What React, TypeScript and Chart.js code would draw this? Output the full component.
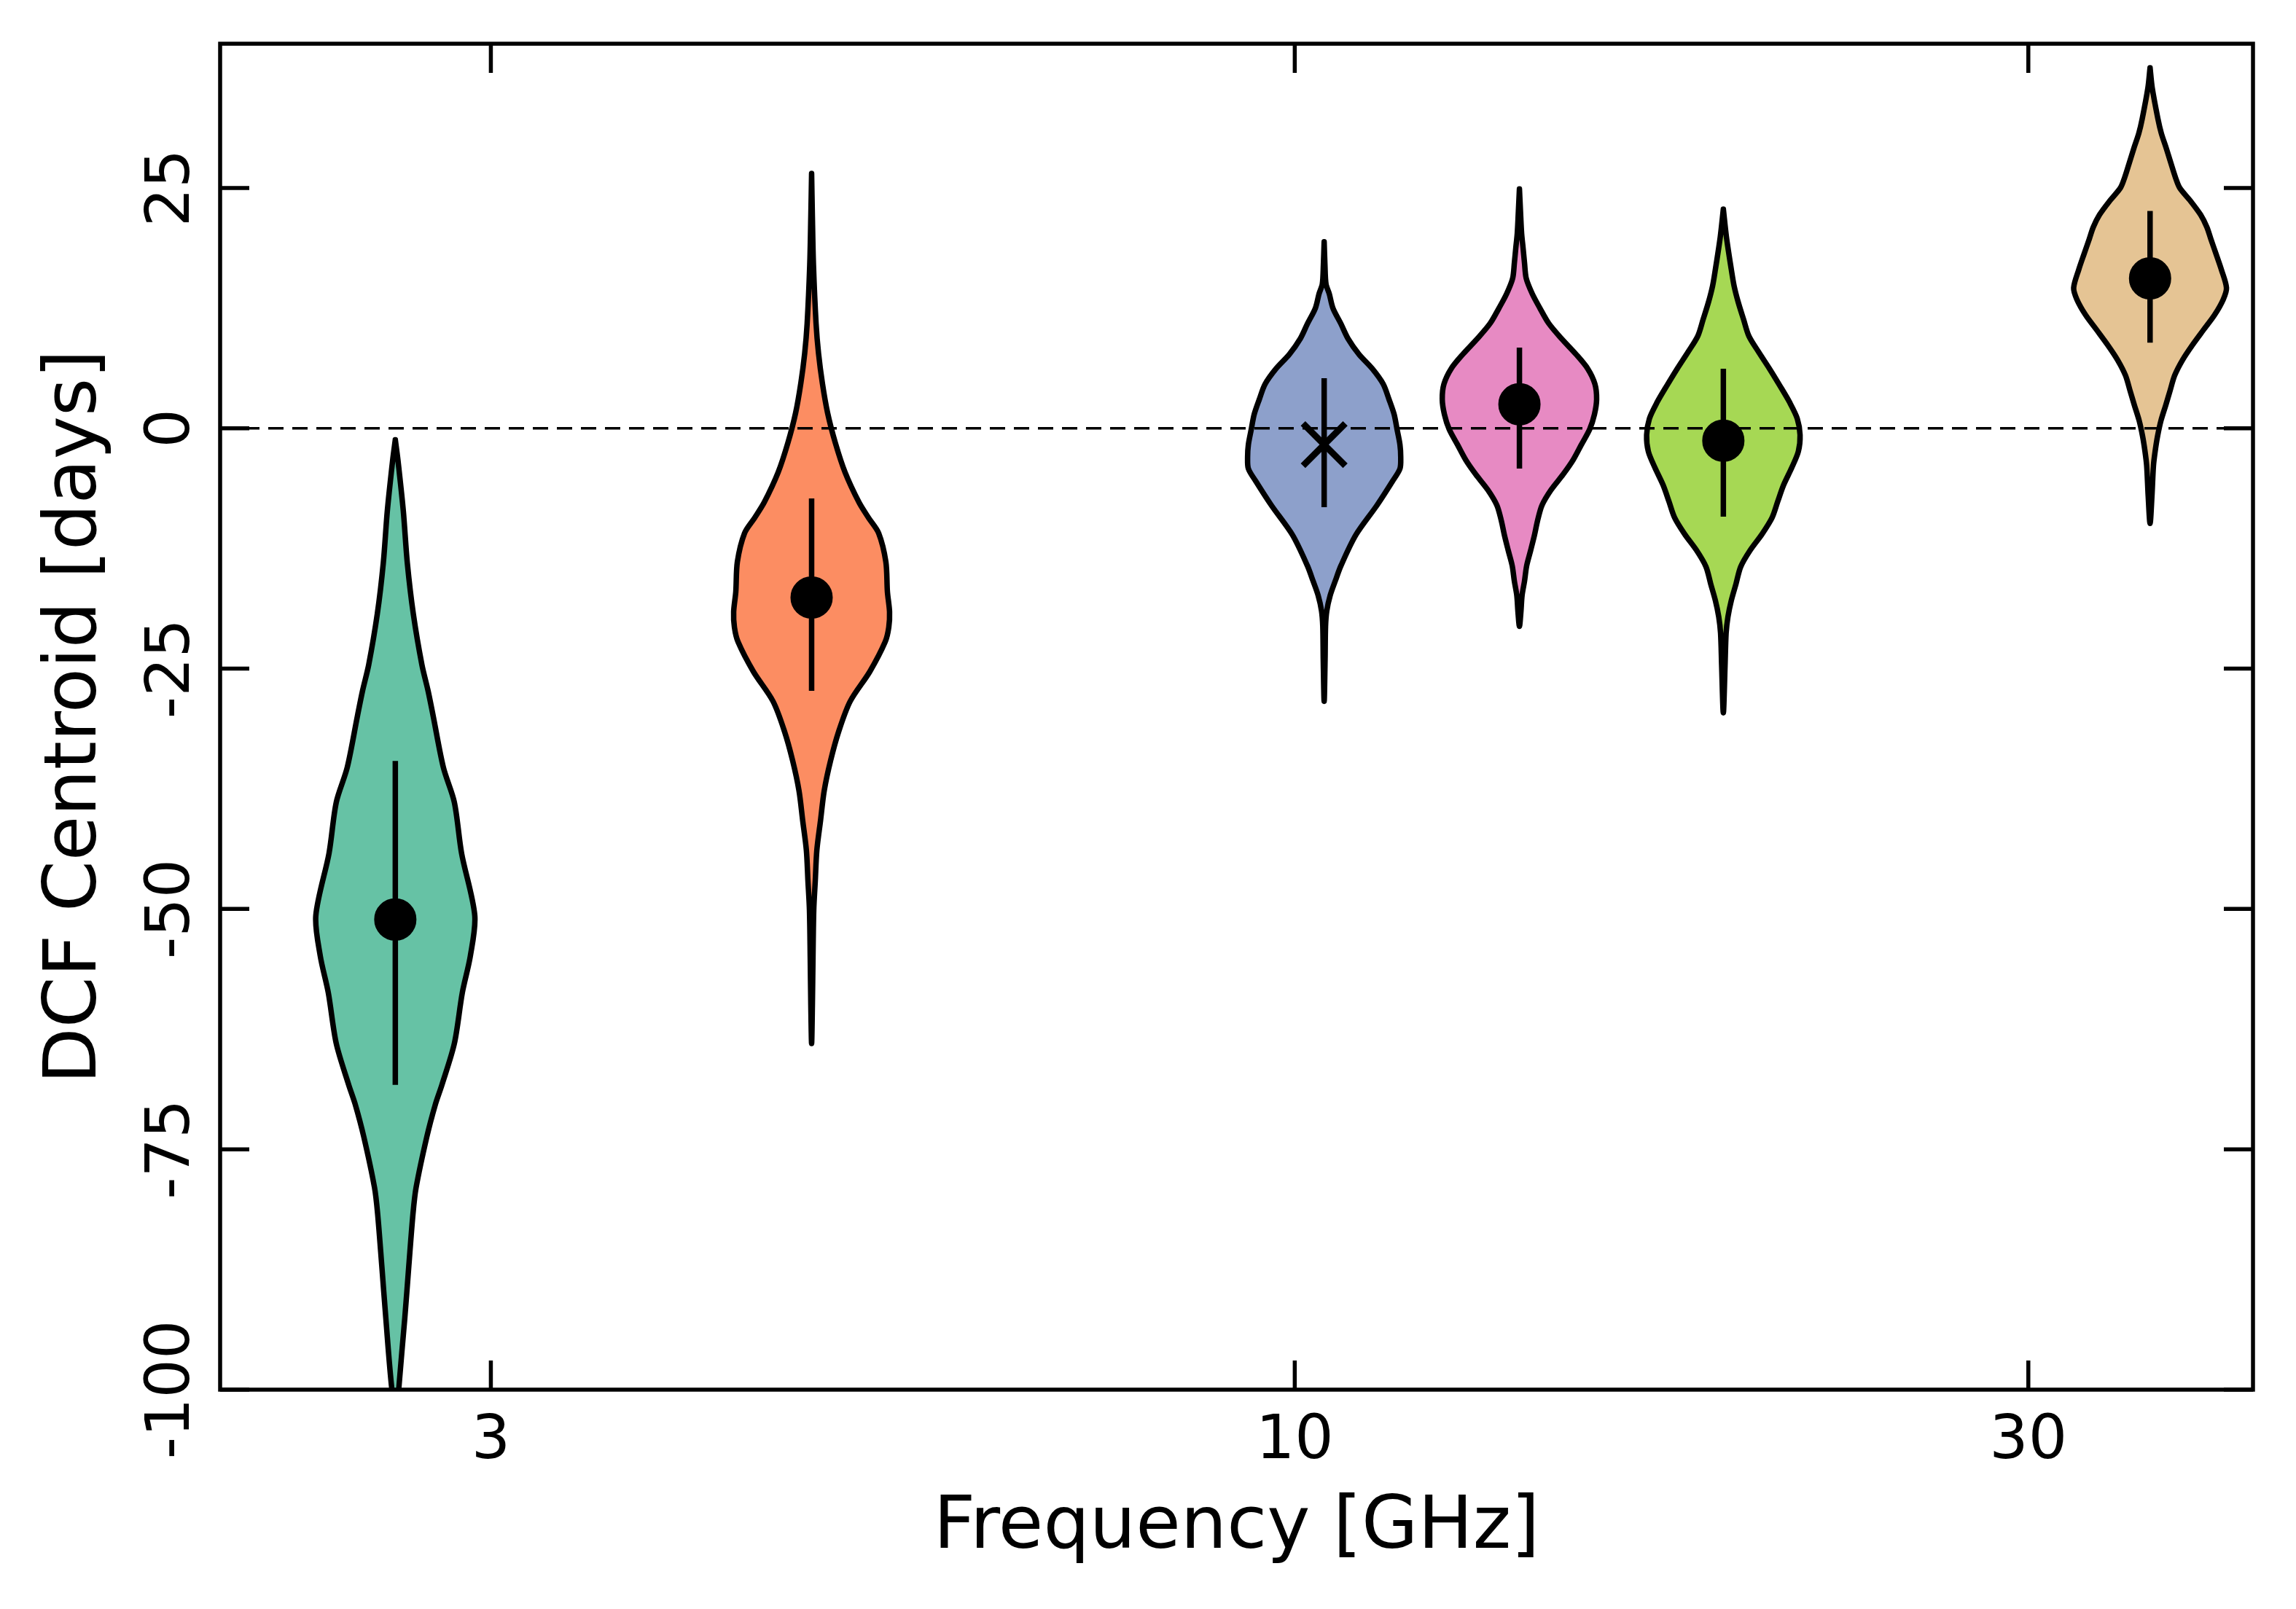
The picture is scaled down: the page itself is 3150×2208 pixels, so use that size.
import { useEffect, useRef } from "react";
import { Chart, registerables } from "chart.js";

Chart.register(...registerables);

// one violin per frequency band
const freqGHz = [2.6, 4.85, 10.45, 14.0, 19.0, 36.0];
const centroidDays = [-51.1, -17.6, -1.7, 2.5, -1.3, 15.6];
const errLowDays = [-68.3, -27.3, -8.2, -4.2, -9.2, 8.9];
const errHighDays = [-34.6, -7.3, 5.2, 8.4, 6.2, 22.6];
const markerStyles = ["circle", "circle", "crossRot", "circle", "circle", "circle"];
const violinColors = ["#66c2a5", "#fc8d62", "#8da0cb", "#e78ac3", "#a6d854", "#e5c494"];

// violin outlines: delay (days) and density half-width (dex in frequency)
const days26 = [-1.2, -3.3, -8.6, -14.0, -19.3, -24.6, -27.3, -29.9, -35.3, -38.9, -44.2, -50.7, -54.9, -58.7, -64.0, -68.3, -70.3, -73.7, -79.0, -81.7, -87.1, -92.5, -100.0, -103.0];
const width26 = [0, 0.0017, 0.0052, 0.0078, 0.0117, 0.0173, 0.0213, 0.0246, 0.0313, 0.0384, 0.0431, 0.0517, 0.0488, 0.0436, 0.0384, 0.0303, 0.0261, 0.0205, 0.0135, 0.0115, 0.0088, 0.0062, 0.0022, 0.0012];

const days485 = [26.5, 22.0, 17.0, 10.9, 7.8, 4.7, 1.6, -1.5, -4.6, -7.7, -9.3, -10.9, -13.9, -17.0, -19.1, -20.7, -22.2, -25.3, -28.4, -31.5, -34.6, -37.7, -40.8, -43.9, -47.0, -50.1, -55.0, -60.0, -64.0];
const width485 = [0, 0.0005, 0.0012, 0.0029, 0.0045, 0.007, 0.0104, 0.0154, 0.0218, 0.0308, 0.037, 0.0436, 0.0483, 0.0493, 0.0507, 0.0502, 0.0479, 0.0379, 0.0251, 0.0177, 0.0123, 0.0082, 0.0058, 0.0034, 0.0024, 0.0014, 0.0009, 0.0005, 0];

const days1045 = [19.4, 17.0, 15.0, 14.0, 12.5, 10.9, 9.3, 7.7, 6.2, 4.6, 3.0, 1.45, -0.1, -1.7, -3.0, -4.2, -5.5, -8.0, -11.1, -14.3, -15.85, -17.4, -19.0, -20.6, -24.0, -28.4];
const width1045 = [0, 0.0005, 0.0012, 0.0033, 0.0057, 0.0108, 0.0156, 0.0226, 0.0313, 0.0384, 0.0422, 0.0455, 0.0474, 0.0493, 0.0498, 0.0493, 0.0445, 0.0344, 0.0206, 0.0109, 0.0073, 0.0039, 0.0017, 0.0009, 0.0006, 0];

const days14 = [24.9, 22.5, 20.3, 18.7, 17.2, 15.6, 14.0, 12.5, 10.9, 9.3, 7.7, 6.2, 4.6, 3.0, 1.45, -0.1, -1.7, -3.3, -4.8, -6.4, -8.0, -9.6, -11.1, -12.7, -14.3, -15.9, -17.4, -19.0, -20.6];
const width14 = [0, 0.0007, 0.0014, 0.0024, 0.0033, 0.0044, 0.0083, 0.0133, 0.0191, 0.0275, 0.0368, 0.0444, 0.0491, 0.0502, 0.0488, 0.0457, 0.0403, 0.0349, 0.0284, 0.0206, 0.0147, 0.0118, 0.0098, 0.0073, 0.0047, 0.0033, 0.0017, 0.001, 0];

const days19 = [22.8, 19.9, 16.5, 14.8, 13.1, 11.3, 9.6, 7.9, 6.2, 4.5, 2.7, 1.0, -0.7, -2.4, -4.1, -5.9, -7.6, -9.3, -11.0, -12.7, -14.4, -16.2, -17.9, -19.6, -21.3, -24.7, -29.6];
const width19 = [0, 0.002, 0.0052, 0.007, 0.0097, 0.0132, 0.0166, 0.0231, 0.03, 0.0365, 0.0431, 0.0481, 0.0499, 0.0488, 0.0445, 0.0392, 0.0354, 0.0317, 0.0252, 0.0174, 0.0113, 0.0082, 0.0052, 0.003, 0.0018, 0.0011, 0];

const days36 = [37.5, 35.4, 32.2, 30.7, 29.1, 27.5, 26.0, 25.0, 23.7, 22.2, 20.9, 19.7, 18.1, 16.5, 14.6, 13.4, 11.8, 10.2, 8.65, 7.1, 5.5, 3.9, 2.4, 0.8, -0.8, -2.4, -3.9, -7.1, -9.9];
const width36 = [0, 0.0014, 0.0051, 0.0073, 0.0106, 0.0137, 0.0167, 0.0193, 0.026, 0.0329, 0.037, 0.0395, 0.043, 0.0464, 0.0497, 0.0476, 0.042, 0.0346, 0.0275, 0.0211, 0.016, 0.013, 0.0102, 0.0071, 0.0049, 0.0033, 0.0022, 0.0012, 0];

const violins = [
  { days: days26, width: width26 },
  { days: days485, width: width485 },
  { days: days1045, width: width1045 },
  { days: days14, width: width14 },
  { days: days19, width: width19 },
  { days: days36, width: width36 },
];

const freqRange = [2, 42];
const dayRange = [-100, 40];
const xTicks = [3, 10, 30];
const yTicks = [-100, -75, -50, -25, 0, 25];

const FONT = "DejaVu Sans";

// right edge top->bottom, then left edge back up to the top tip
function outline(freq: number, days: number[], width: number[]) {
  const right = days.map((d, k) => ({ x: freq * Math.pow(10, width[k]), y: d }));
  const left = days
    .map((d, k) => ({ x: freq * Math.pow(10, -width[k]), y: d }))
    .reverse()
    .slice(1);
  return right.concat(left);
}

const framePlugin = {
  id: "frame",
  afterDatasetsDraw(chart: any) {
    const { ctx, chartArea: a, scales } = chart;
    ctx.save();
    ctx.strokeStyle = "#000";
    ctx.lineWidth = 5.5;
    ctx.strokeRect(a.left, a.top, a.right - a.left, a.bottom - a.top);
    ctx.beginPath();
    xTicks.forEach((v) => {
      const px = scales.x.getPixelForValue(v);
      ctx.moveTo(px, a.bottom);
      ctx.lineTo(px, a.bottom - 40);
      ctx.moveTo(px, a.top);
      ctx.lineTo(px, a.top + 40);
    });
    yTicks.forEach((v) => {
      const py = scales.y.getPixelForValue(v);
      ctx.moveTo(a.left, py);
      ctx.lineTo(a.left + 40, py);
      ctx.moveTo(a.right, py);
      ctx.lineTo(a.right - 40, py);
    });
    ctx.stroke();

    // rotated y tick labels
    ctx.font = `84px "${FONT}"`;
    ctx.fillStyle = "#000";
    ctx.textAlign = "center";
    ctx.textBaseline = "alphabetic";
    yTicks.forEach((v) => {
      const py = scales.y.getPixelForValue(v);
      ctx.save();
      ctx.translate(a.left - 43, py);
      ctx.rotate(-Math.PI / 2);
      ctx.fillText(String(v), 0, 0);
      ctx.restore();
    });
    ctx.restore();
  },
};

export default function App() {
  const canvasRef = useRef<HTMLCanvasElement>(null);

  useEffect(() => {
    if (canvasRef.current == null) {
      return;
    }

    const datasets: any[] = [];
    violins.forEach((v, i) => {
      datasets.push({
        data: outline(freqGHz[i], v.days, v.width),
        showLine: true,
        fill: "shape",
        backgroundColor: violinColors[i],
        borderColor: "#000",
        borderWidth: 7.5,
        borderJoinStyle: "round",
        borderCapStyle: "round",
        tension: 0.3,
        pointRadius: 0,
        clip: 0,
        order: 3,
      });
    });
    datasets.push({
      data: [
        { x: freqRange[0], y: 0 },
        { x: freqRange[1], y: 0 },
      ],
      showLine: true,
      borderColor: "#000",
      borderWidth: 3.5,
      borderDash: [21, 12],
      pointRadius: 0,
      order: 2,
    });
    freqGHz.forEach((f, i) => {
      datasets.push({
        data: [
          { x: f, y: errLowDays[i] },
          { x: f, y: errHighDays[i] },
        ],
        showLine: true,
        borderColor: "#000",
        borderWidth: 7.5,
        pointRadius: 0,
        order: 1,
      });
    });
    datasets.push({
      data: freqGHz.map((f, i) => ({ x: f, y: centroidDays[i] })),
      showLine: false,
      pointStyle: markerStyles,
      pointRadius: markerStyles.map((s) => (s === "crossRot" ? 41 : 28)),
      pointBorderWidth: markerStyles.map((s) => (s === "crossRot" ? 9 : 2)),
      pointBackgroundColor: "#000",
      pointBorderColor: "#000",
      clip: false,
      order: 0,
    });

    const chart = new Chart(canvasRef.current, {
      type: "scatter",
      data: { datasets },
      options: {
        animation: false,
        responsive: true,
        maintainAspectRatio: false,
        devicePixelRatio: 1,
        events: [],
        layout: { padding: { top: 60, right: 59, left: 0, bottom: 0 } },
        plugins: {
          legend: { display: false },
          tooltip: { enabled: false },
        },
        scales: {
          x: {
            type: "logarithmic",
            min: freqRange[0],
            max: freqRange[1],
            afterBuildTicks: (scale: any) => {
              scale.ticks = xTicks.map((v) => ({ value: v }));
            },
            afterFit: (scale: any) => {
              scale.height = 301;
            },
            grid: { display: false },
            border: { display: false },
            ticks: {
              callback: (value: any) => String(value),
              autoSkip: false,
              maxRotation: 0,
              padding: 14,
              color: "#000",
              font: { family: FONT, size: 84 },
            },
            title: {
              display: true,
              text: "Frequency [GHz]",
              color: "#000",
              font: { family: FONT, size: 100 },
              padding: { top: 0, bottom: 50 },
            },
          },
          y: {
            type: "linear",
            min: dayRange[0],
            max: dayRange[1],
            afterFit: (scale: any) => {
              scale.width = 302;
            },
            grid: { display: false },
            border: { display: false },
            ticks: { display: false },
            title: {
              display: true,
              text: "DCF Centroid [days]",
              color: "#000",
              font: { family: FONT, size: 100 },
              padding: { top: 45, bottom: 0 },
            },
          },
        },
      },
      plugins: [framePlugin],
    } as any);

    return () => {
      chart.destroy();
    };
  }, []);

  return (
    <div style={{ position: "fixed", left: 0, top: 0, width: 3150, height: 2208 }}>
      <canvas ref={canvasRef} />
    </div>
  );
}
